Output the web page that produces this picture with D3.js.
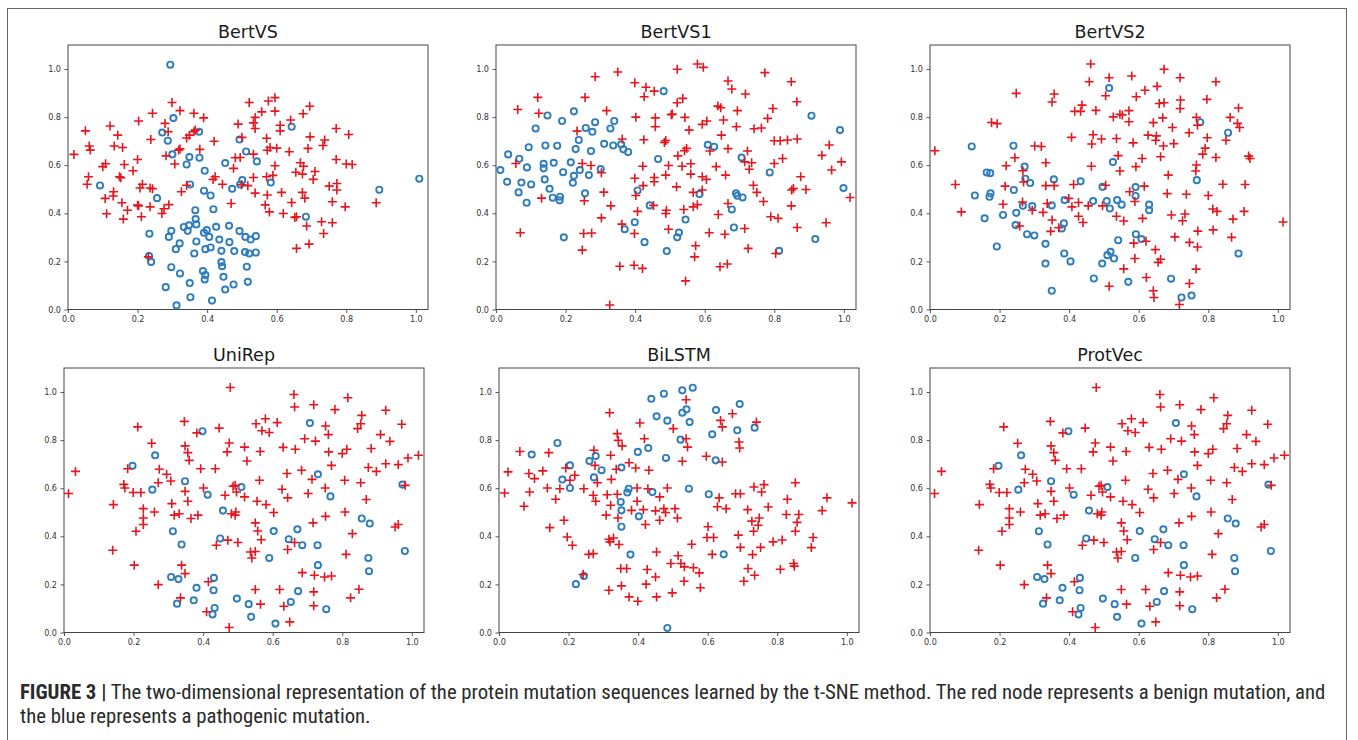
<!DOCTYPE html>
<html><head><meta charset="utf-8">
<script src="https://cdn.jsdelivr.net/npm/d3@7"></script>
<style>body{margin:0;background:#fff;}svg{display:block;}</style>
</head><body>
<svg id="chart" width="1358" height="740"></svg>
<script>
// ---------- DATA (t-SNE coordinates) ----------
const panelTitles = ["BertVS", "BertVS1", "BertVS2", "UniRep", "BiLSTM", "ProtVec"];
const tickValues = [0.0, 0.2, 0.4, 0.6, 0.8, 1.0];

// BertVS
const bertvsBenign = [[0.017,0.645],[0.05,0.743],[0.061,0.68],[0.064,0.663],[0.059,0.552],[0.055,0.521],[0.1,0.594],[0.108,0.606],[0.121,0.763],[0.143,0.725],[0.133,0.68],[0.157,0.674],[0.162,0.603],[0.148,0.552],[0.152,0.548],[0.131,0.49],[0.13,0.472],[0.107,0.462],[0.111,0.398],[0.155,0.444],[0.171,0.413],[0.159,0.376],[0.187,0.577],[0.2,0.624],[0.203,0.784],[0.243,0.816],[0.238,0.707],[0.214,0.521],[0.207,0.505],[0.236,0.505],[0.243,0.502],[0.2,0.434],[0.203,0.431],[0.211,0.386],[0.236,0.427],[0.27,0.399],[0.276,0.419],[0.29,0.436],[0.282,0.639],[0.279,0.774],[0.288,0.739],[0.299,0.861],[0.322,0.827],[0.307,0.605],[0.322,0.668],[0.318,0.663],[0.326,0.49],[0.341,0.517],[0.362,0.816],[0.366,0.746],[0.362,0.739],[0.341,0.713],[0.349,0.725],[0.39,0.797],[0.379,0.666],[0.42,0.7],[0.417,0.541],[0.423,0.552],[0.444,0.521],[0.476,0.587],[0.481,0.631],[0.495,0.632],[0.489,0.771],[0.5,0.716],[0.469,0.441],[0.499,0.519],[0.231,0.219],[0.521,0.861],[0.576,0.867],[0.595,0.881],[0.557,0.822],[0.595,0.825],[0.538,0.799],[0.533,0.776],[0.538,0.753],[0.61,0.766],[0.61,0.743],[0.64,0.788],[0.676,0.814],[0.695,0.845],[0.771,0.753],[0.807,0.728],[0.696,0.718],[0.738,0.705],[0.733,0.682],[0.571,0.712],[0.69,0.67],[0.636,0.656],[0.573,0.662],[0.581,0.674],[0.6,0.671],[0.533,0.646],[0.771,0.624],[0.8,0.605],[0.817,0.603],[0.595,0.598],[0.668,0.61],[0.677,0.596],[0.655,0.571],[0.674,0.563],[0.71,0.574],[0.705,0.541],[0.571,0.552],[0.589,0.558],[0.533,0.549],[0.517,0.515],[0.538,0.484],[0.573,0.476],[0.614,0.487],[0.674,0.487],[0.681,0.463],[0.751,0.513],[0.773,0.524],[0.773,0.497],[0.643,0.445],[0.76,0.448],[0.797,0.427],[0.886,0.444],[0.567,0.435],[0.579,0.406],[0.619,0.399],[0.652,0.383],[0.657,0.386],[0.686,0.347],[0.729,0.365],[0.76,0.361],[0.735,0.316],[0.693,0.272],[0.657,0.254]];
const bertvsPathogenic = [[0.294,1.018],[0.303,0.796],[0.271,0.736],[0.287,0.702],[0.3,0.645],[0.377,0.739],[0.349,0.634],[0.341,0.603],[0.378,0.631],[0.393,0.577],[0.351,0.52],[0.391,0.494],[0.41,0.474],[0.418,0.417],[0.452,0.609],[0.493,0.707],[0.512,0.657],[0.472,0.502],[0.501,0.538],[0.495,0.52],[0.092,0.516],[0.256,0.463],[0.234,0.315],[0.233,0.222],[0.239,0.198],[0.281,0.093],[0.312,0.017],[0.297,0.176],[0.322,0.15],[0.297,0.327],[0.29,0.302],[0.321,0.275],[0.31,0.251],[0.333,0.343],[0.348,0.35],[0.344,0.327],[0.367,0.376],[0.366,0.413],[0.369,0.354],[0.369,0.283],[0.363,0.233],[0.35,0.11],[0.352,0.051],[0.388,0.16],[0.393,0.125],[0.395,0.143],[0.414,0.037],[0.391,0.319],[0.399,0.33],[0.406,0.302],[0.395,0.251],[0.41,0.258],[0.426,0.344],[0.435,0.291],[0.441,0.244],[0.463,0.348],[0.464,0.28],[0.478,0.243],[0.441,0.197],[0.443,0.18],[0.447,0.136],[0.452,0.083],[0.476,0.104],[0.493,0.326],[0.51,0.302],[0.509,0.239],[0.514,0.178],[0.517,0.115],[0.525,0.291],[0.54,0.305],[0.521,0.233],[0.54,0.237],[0.543,0.616],[0.643,0.76],[0.583,0.528],[0.684,0.386],[0.895,0.498],[1.01,0.544]];

// BertVS1
const bertvs1Benign = [[0.0625,0.832],[0.057,0.607],[0.07,0.319],[0.12,0.882],[0.123,0.816],[0.131,0.463],[0.233,0.742],[0.256,0.882],[0.248,0.607],[0.273,0.599],[0.254,0.452],[0.252,0.316],[0.275,0.318],[0.248,0.247],[0.285,0.968],[0.303,0.569],[0.31,0.488],[0.303,0.381],[0.318,0.827],[0.33,0.431],[0.35,0.988],[0.327,0.019],[0.356,0.18],[0.363,0.709],[0.362,0.355],[0.399,0.943],[0.402,0.8],[0.399,0.546],[0.402,0.474],[0.407,0.408],[0.398,0.316],[0.397,0.184],[0.421,0.171],[0.422,0.596],[0.423,0.515],[0.426,0.885],[0.431,0.924],[0.425,0.706],[0.455,0.908],[0.458,0.797],[0.458,0.76],[0.455,0.549],[0.455,0.531],[0.453,0.433],[0.484,0.695],[0.488,0.703],[0.496,0.599],[0.488,0.559],[0.49,0.413],[0.488,0.399],[0.496,0.334],[0.504,0.81],[0.521,0.999],[0.579,1.021],[0.596,1.007],[0.667,0.95],[0.678,0.917],[0.717,0.896],[0.773,0.985],[0.849,0.947],[0.865,0.864],[0.521,0.86],[0.537,0.878],[0.507,0.813],[0.543,0.799],[0.555,0.746],[0.593,0.77],[0.606,0.784],[0.638,0.846],[0.646,0.839],[0.654,0.788],[0.694,0.827],[0.691,0.76],[0.648,0.725],[0.742,0.752],[0.763,0.755],[0.781,0.795],[0.796,0.836],[0.8,0.702],[0.817,0.702],[0.838,0.705],[0.866,0.709],[0.958,0.684],[0.937,0.641],[0.993,0.614],[0.965,0.58],[1.018,0.466],[0.949,0.361],[0.866,0.341],[0.849,0.431],[0.891,0.499],[0.855,0.503],[0.85,0.497],[0.876,0.552],[0.824,0.628],[0.8,0.607],[0.723,0.659],[0.715,0.614],[0.735,0.61],[0.728,0.583],[0.667,0.669],[0.615,0.659],[0.548,0.67],[0.542,0.66],[0.523,0.639],[0.535,0.596],[0.56,0.606],[0.56,0.563],[0.633,0.594],[0.593,0.552],[0.605,0.541],[0.66,0.559],[0.519,0.51],[0.567,0.487],[0.593,0.497],[0.74,0.517],[0.75,0.487],[0.769,0.449],[0.667,0.441],[0.54,0.416],[0.567,0.427],[0.579,0.436],[0.639,0.395],[0.79,0.386],[0.811,0.379],[0.613,0.319],[0.658,0.313],[0.715,0.337],[0.574,0.265],[0.571,0.219],[0.644,0.178],[0.665,0.189],[0.725,0.254],[0.804,0.233],[0.545,0.119]];
const bertvs1Pathogenic = [[0.0125,0.58],[0.035,0.645],[0.032,0.531],[0.067,0.627],[0.073,0.528],[0.065,0.487],[0.088,0.444],[0.089,0.591],[0.094,0.675],[0.101,0.52],[0.114,0.753],[0.137,0.606],[0.137,0.587],[0.14,0.541],[0.142,0.682],[0.148,0.807],[0.154,0.502],[0.163,0.465],[0.166,0.61],[0.176,0.681],[0.184,0.469],[0.183,0.454],[0.19,0.784],[0.193,0.571],[0.195,0.3],[0.215,0.612],[0.221,0.527],[0.224,0.556],[0.224,0.824],[0.229,0.667],[0.238,0.705],[0.241,0.58],[0.256,0.483],[0.258,0.755],[0.267,0.559],[0.277,0.739],[0.273,0.659],[0.285,0.779],[0.301,0.584],[0.311,0.689],[0.329,0.753],[0.34,0.784],[0.337,0.682],[0.36,0.687],[0.366,0.666],[0.38,0.655],[0.37,0.334],[0.399,0.363],[0.407,0.495],[0.427,0.28],[0.442,0.433],[0.466,0.626],[0.482,0.908],[0.491,0.243],[0.907,0.806],[0.989,0.746],[0.999,0.505],[0.918,0.293],[0.787,0.57],[0.706,0.632],[0.609,0.685],[0.627,0.677],[0.585,0.48],[0.69,0.483],[0.694,0.473],[0.709,0.466],[0.678,0.416],[0.545,0.374],[0.684,0.341],[0.526,0.32],[0.521,0.3],[0.814,0.244]];

// BertVS2
const bertvs2Benign = [[0.014,0.66],[0.073,0.52],[0.09,0.406],[0.177,0.778],[0.193,0.773],[0.248,0.899],[0.219,0.598],[0.244,0.631],[0.216,0.513],[0.21,0.438],[0.258,0.347],[0.267,0.577],[0.269,0.53],[0.266,0.447],[0.301,0.68],[0.32,0.678],[0.294,0.413],[0.325,0.404],[0.333,0.61],[0.333,0.515],[0.337,0.441],[0.351,0.863],[0.357,0.896],[0.357,0.515],[0.351,0.372],[0.347,0.325],[0.37,0.34],[0.407,0.716],[0.413,0.52],[0.399,0.462],[0.408,0.427],[0.427,0.445],[0.427,0.388],[0.44,0.362],[0.416,0.824],[0.433,0.824],[0.437,0.85],[0.477,0.828],[0.458,0.947],[0.462,1.021],[0.469,0.727],[0.465,0.688],[0.493,0.709],[0.464,0.596],[0.455,0.431],[0.496,0.431],[0.505,0.889],[0.515,0.964],[0.505,0.517],[0.515,0.097],[0.58,0.971],[0.673,0.999],[0.719,0.964],[0.822,0.947],[0.618,0.912],[0.653,0.928],[0.593,0.885],[0.659,0.857],[0.673,0.86],[0.72,0.871],[0.719,0.836],[0.796,0.874],[0.887,0.838],[0.863,0.799],[0.884,0.774],[0.89,0.757],[0.527,0.801],[0.546,0.812],[0.553,0.809],[0.572,0.827],[0.572,0.781],[0.642,0.777],[0.669,0.797],[0.697,0.757],[0.745,0.735],[0.766,0.799],[0.769,0.766],[0.797,0.714],[0.851,0.704],[0.627,0.725],[0.651,0.722],[0.649,0.704],[0.536,0.711],[0.584,0.693],[0.671,0.68],[0.701,0.69],[0.791,0.671],[0.784,0.646],[0.822,0.632],[0.916,0.638],[0.92,0.628],[0.541,0.64],[0.61,0.628],[0.663,0.635],[0.592,0.594],[0.546,0.576],[0.766,0.601],[0.764,0.576],[0.685,0.559],[0.842,0.521],[0.906,0.52],[0.616,0.513],[0.574,0.49],[0.589,0.449],[0.682,0.482],[0.737,0.479],[0.8,0.474],[0.813,0.418],[0.825,0.408],[0.903,0.408],[0.871,0.376],[1.015,0.364],[0.536,0.388],[0.557,0.368],[0.611,0.379],[0.694,0.393],[0.733,0.397],[0.726,0.369],[0.77,0.326],[0.814,0.331],[0.867,0.3],[0.704,0.302],[0.746,0.279],[0.769,0.26],[0.621,0.284],[0.586,0.276],[0.648,0.249],[0.589,0.212],[0.663,0.209],[0.656,0.196],[0.557,0.169],[0.765,0.168],[0.622,0.133],[0.746,0.108],[0.642,0.078],[0.644,0.05],[0.717,0.021]];
const bertvs2Pathogenic = [[0.12,0.678],[0.24,0.681],[0.272,0.594],[0.163,0.57],[0.173,0.567],[0.129,0.474],[0.174,0.483],[0.171,0.469],[0.157,0.379],[0.192,0.262],[0.21,0.393],[0.241,0.497],[0.248,0.402],[0.246,0.351],[0.274,0.544],[0.288,0.526],[0.267,0.431],[0.294,0.43],[0.279,0.313],[0.3,0.308],[0.332,0.273],[0.332,0.191],[0.35,0.078],[0.356,0.541],[0.35,0.433],[0.385,0.358],[0.379,0.337],[0.386,0.233],[0.404,0.2],[0.387,0.455],[0.433,0.533],[0.469,0.451],[0.471,0.129],[0.496,0.51],[0.508,0.451],[0.495,0.191],[0.51,0.226],[0.515,0.921],[0.777,0.779],[0.857,0.735],[0.526,0.613],[0.767,0.538],[0.591,0.509],[0.591,0.472],[0.538,0.455],[0.551,0.436],[0.517,0.42],[0.63,0.436],[0.63,0.413],[0.592,0.313],[0.608,0.293],[0.541,0.288],[0.519,0.24],[0.529,0.212],[0.57,0.115],[0.693,0.128],[0.723,0.05],[0.752,0.058],[0.887,0.233]];

// UniRep
const unirepBenign = [[0.013,0.578],[0.033,0.67],[0.142,0.532],[0.14,0.342],[0.183,0.681],[0.172,0.616],[0.175,0.601],[0.199,0.582],[0.221,0.582],[0.212,0.855],[0.228,0.515],[0.228,0.476],[0.228,0.449],[0.207,0.421],[0.202,0.28],[0.26,0.501],[0.252,0.787],[0.274,0.679],[0.271,0.623],[0.295,0.658],[0.307,0.63],[0.31,0.536],[0.317,0.488],[0.331,0.494],[0.271,0.199],[0.346,0.878],[0.348,0.776],[0.356,0.748],[0.36,0.716],[0.348,0.587],[0.356,0.546],[0.365,0.474],[0.385,0.488],[0.338,0.28],[0.348,0.245],[0.335,0.144],[0.382,0.83],[0.393,0.681],[0.401,0.601],[0.435,0.681],[0.438,0.363],[0.446,0.85],[0.469,0.751],[0.475,0.788],[0.478,1.019],[0.463,0.571],[0.486,0.608],[0.492,0.612],[0.496,0.584],[0.481,0.494],[0.492,0.488],[0.494,0.501],[0.471,0.384],[0.5,0.374],[0.519,0.771],[0.526,0.713],[0.519,0.564],[0.415,0.211],[0.41,0.086],[0.475,0.021],[0.661,0.99],[0.663,0.938],[0.718,0.947],[0.816,0.976],[0.779,0.927],[0.925,0.924],[0.856,0.903],[0.853,0.868],[0.844,0.848],[0.971,0.866],[0.91,0.823],[0.937,0.795],[0.579,0.889],[0.552,0.868],[0.613,0.873],[0.569,0.839],[0.59,0.832],[0.752,0.859],[0.76,0.823],[0.692,0.806],[0.723,0.796],[0.63,0.77],[0.665,0.762],[0.564,0.753],[0.761,0.751],[0.8,0.744],[0.813,0.762],[0.883,0.765],[0.769,0.695],[0.683,0.675],[0.641,0.661],[0.713,0.637],[0.807,0.633],[0.853,0.623],[0.875,0.686],[0.898,0.67],[0.925,0.702],[0.961,0.698],[0.989,0.726],[1.019,0.737],[0.562,0.633],[0.627,0.596],[0.643,0.56],[0.702,0.578],[0.751,0.601],[0.869,0.553],[0.981,0.612],[0.555,0.546],[0.581,0.532],[0.603,0.499],[0.55,0.456],[0.557,0.422],[0.567,0.386],[0.752,0.483],[0.716,0.456],[0.808,0.501],[0.829,0.411],[0.952,0.439],[0.961,0.449],[0.663,0.374],[0.643,0.345],[0.536,0.335],[0.55,0.337],[0.54,0.31],[0.811,0.325],[0.685,0.249],[0.72,0.238],[0.749,0.231],[0.769,0.235],[0.55,0.179],[0.62,0.179],[0.718,0.169],[0.848,0.18],[0.824,0.144],[0.565,0.118],[0.632,0.109],[0.718,0.111],[0.649,0.044]];
const unirepPathogenic = [[0.197,0.693],[0.262,0.737],[0.254,0.594],[0.348,0.629],[0.398,0.837],[0.413,0.573],[0.457,0.507],[0.449,0.391],[0.51,0.605],[0.313,0.421],[0.338,0.366],[0.308,0.231],[0.329,0.222],[0.381,0.186],[0.431,0.227],[0.43,0.176],[0.373,0.134],[0.325,0.12],[0.433,0.102],[0.427,0.075],[0.497,0.141],[0.531,0.118],[0.538,0.065],[0.707,0.871],[0.73,0.658],[0.766,0.566],[0.973,0.615],[0.856,0.474],[0.879,0.453],[0.98,0.339],[0.603,0.422],[0.671,0.429],[0.646,0.388],[0.685,0.363],[0.729,0.363],[0.59,0.31],[0.875,0.31],[0.877,0.255],[0.73,0.28],[0.673,0.172],[0.652,0.127],[0.754,0.097],[0.608,0.037]];

// BiLSTM
const bilstmBenign = [[0.016,0.58],[0.026,0.668],[0.06,0.753],[0.072,0.525],[0.086,0.661],[0.088,0.584],[0.102,0.64],[0.126,0.672],[0.143,0.748],[0.139,0.601],[0.146,0.436],[0.163,0.554],[0.175,0.598],[0.192,0.684],[0.187,0.467],[0.196,0.397],[0.211,0.363],[0.218,0.654],[0.204,0.633],[0.244,0.598],[0.242,0.241],[0.258,0.325],[0.271,0.328],[0.273,0.758],[0.276,0.695],[0.271,0.571],[0.278,0.546],[0.283,0.623],[0.308,0.488],[0.311,0.573],[0.316,0.388],[0.319,0.377],[0.329,0.393],[0.321,0.529],[0.323,0.637],[0.321,0.737],[0.318,0.914],[0.316,0.176],[0.34,0.827],[0.343,0.799],[0.354,0.776],[0.337,0.679],[0.34,0.575],[0.342,0.476],[0.345,0.366],[0.35,0.266],[0.367,0.266],[0.352,0.194],[0.374,0.148],[0.399,0.13],[0.374,0.706],[0.393,0.684],[0.381,0.508],[0.397,0.601],[0.397,0.546],[0.415,0.511],[0.421,0.449],[0.405,0.871],[0.418,0.806],[0.431,0.675],[0.428,0.598],[0.426,0.262],[0.423,0.201],[0.45,0.231],[0.453,0.335],[0.453,0.148],[0.462,0.564],[0.462,0.467],[0.45,0.506],[0.474,0.515],[0.479,0.499],[0.484,0.601],[0.538,0.968],[0.501,0.848],[0.538,0.806],[0.542,0.771],[0.527,0.712],[0.671,0.91],[0.637,0.882],[0.642,0.855],[0.74,0.875],[0.69,0.792],[0.692,0.767],[0.596,0.733],[0.642,0.709],[0.762,0.615],[0.733,0.605],[0.755,0.584],[0.68,0.577],[0.694,0.577],[0.852,0.623],[0.633,0.56],[0.628,0.523],[0.653,0.515],[0.715,0.511],[0.774,0.522],[0.829,0.554],[0.943,0.56],[0.929,0.507],[1.015,0.539],[0.506,0.515],[0.513,0.476],[0.748,0.476],[0.727,0.463],[0.745,0.446],[0.732,0.421],[0.826,0.491],[0.862,0.491],[0.857,0.458],[0.852,0.421],[0.903,0.395],[0.898,0.353],[0.601,0.44],[0.598,0.395],[0.617,0.395],[0.688,0.405],[0.554,0.367],[0.788,0.377],[0.814,0.385],[0.752,0.354],[0.694,0.354],[0.613,0.325],[0.729,0.324],[0.494,0.287],[0.515,0.319],[0.523,0.287],[0.533,0.273],[0.559,0.269],[0.576,0.248],[0.716,0.266],[0.735,0.238],[0.809,0.263],[0.847,0.287],[0.849,0.276],[0.532,0.213],[0.579,0.186],[0.704,0.213],[0.498,0.165]];
const bilstmPathogenic = [[0.094,0.74],[0.168,0.788],[0.204,0.695],[0.182,0.636],[0.204,0.601],[0.26,0.713],[0.278,0.734],[0.273,0.645],[0.295,0.675],[0.352,0.686],[0.35,0.543],[0.352,0.508],[0.352,0.44],[0.369,0.582],[0.373,0.598],[0.399,0.751],[0.429,0.767],[0.402,0.483],[0.378,0.324],[0.441,0.584],[0.438,0.972],[0.474,0.993],[0.453,0.899],[0.484,0.881],[0.48,0.726],[0.221,0.201],[0.244,0.235],[0.484,0.019],[0.527,1.007],[0.557,1.018],[0.527,0.914],[0.539,0.928],[0.548,0.875],[0.624,0.925],[0.692,0.95],[0.685,0.841],[0.735,0.852],[0.613,0.824],[0.522,0.802],[0.623,0.716],[0.546,0.598],[0.603,0.575],[0.646,0.325]];

// ProtVec (the published panel shows the same embedding as UniRep)
const protvecBenign = unirepBenign;
const protvecPathogenic = unirepPathogenic;

const captionBold = "FIGURE 3 |";
const captionLine1 = " The two-dimensional representation of the protein mutation sequences learned by the t-SNE method. The red node represents a benign mutation, and";
const captionLine2 = "the blue represents a pathogenic mutation.";

// ---------- DRAWING ----------
const svg = d3.select("#chart");
const BENIGN = "#e5161e", PATHO = "#2f7dbd";
const W = 360, H = 264.5;
const panels = [
  {title: panelTitles[0], benign: bertvsBenign,  patho: bertvsPathogenic,  left: 68,  top: 45},
  {title: panelTitles[1], benign: bertvs1Benign, patho: bertvs1Pathogenic, left: 496, top: 45},
  {title: panelTitles[2], benign: bertvs2Benign, patho: bertvs2Pathogenic, left: 930, top: 45},
  {title: panelTitles[3], benign: unirepBenign,  patho: unirepPathogenic,  left: 64,  top: 368},
  {title: panelTitles[4], benign: bilstmBenign,  patho: bilstmPathogenic,  left: 499, top: 368},
  {title: panelTitles[5], benign: protvecBenign, patho: protvecPathogenic, left: 930, top: 368}
];

// outer frame
svg.append("rect").attr("x", 7.5).attr("y", 8.5).attr("width", 1339).attr("height", 745)
  .attr("fill", "none").attr("stroke", "#666").attr("stroke-width", 1);

const fmt = d3.format(".1f");
panels.forEach(p => {
  const x = d3.scaleLinear().domain([0, 1.035]).range([0, W]);
  const y = d3.scaleLinear().domain([0, 1.1]).range([H, 0]);
  const g = svg.append("g").attr("transform", `translate(${p.left},${p.top})`);

  const xa = g.append("g").attr("transform", `translate(0,${H})`)
    .call(d3.axisBottom(x).tickValues(tickValues).tickFormat(fmt).tickSize(3.5).tickSizeOuter(0).tickPadding(3));
  const ya = g.append("g")
    .call(d3.axisLeft(y).tickValues(tickValues).tickFormat(fmt).tickSize(3.5).tickSizeOuter(0).tickPadding(3.5));
  [xa, ya].forEach(a => {
    a.select(".domain").remove();
    a.selectAll(".tick line").attr("stroke", "#444").attr("stroke-width", 0.9);
    a.selectAll(".tick text").attr("fill", "#333").style("font-family", "DejaVu Sans, sans-serif").style("font-size", "8.1px");
  });

  g.append("rect").attr("x", 0).attr("y", 0).attr("width", W).attr("height", H)
    .attr("fill", "none").attr("stroke", "#444").attr("stroke-width", 1);

  g.append("text").attr("x", W / 2).attr("y", -7).attr("text-anchor", "middle")
    .style("font-family", "DejaVu Sans, sans-serif").style("font-size", "17.5px").attr("fill", "#1a1a1a")
    .text(p.title);

  const s = 4.5;
  g.append("g").selectAll("circle").data(p.patho).join("circle")
    .attr("cx", d => x(d[0])).attr("cy", d => y(d[1])).attr("r", 3.1)
    .attr("fill", "none").attr("stroke", PATHO).attr("stroke-width", 1.9);
  g.append("g").selectAll("path").data(p.benign).join("path")
    .attr("d", d => { const cx = x(d[0]), cy = y(d[1]);
      return `M${cx - s},${cy}H${cx + s}M${cx},${cy - s}V${cy + s}`; })
    .attr("stroke", BENIGN).attr("stroke-width", 1.6).attr("fill", "none");
});

// caption
const cap = svg.append("g").style("font-family", "'Liberation Sans Narrow', 'Roboto Condensed', 'Liberation Sans', sans-serif").attr("fill", "#2a2a2a");
const t1 = cap.append("text").attr("x", 20).attr("y", 699).style("font-size", "16px");
t1.append("tspan").style("font-weight", "bold").text(captionBold);
t1.append("tspan").text(captionLine1);
const t2 = cap.append("text").attr("x", 20).attr("y", 723).style("font-size", "16px").text(captionLine2);
const w1 = t1.node().getComputedTextLength();
const k = 1306 / w1;
t1.style("font-size", (16 * k) + "px");
t2.style("font-size", (16 * k) + "px");
</script>
</body></html>
